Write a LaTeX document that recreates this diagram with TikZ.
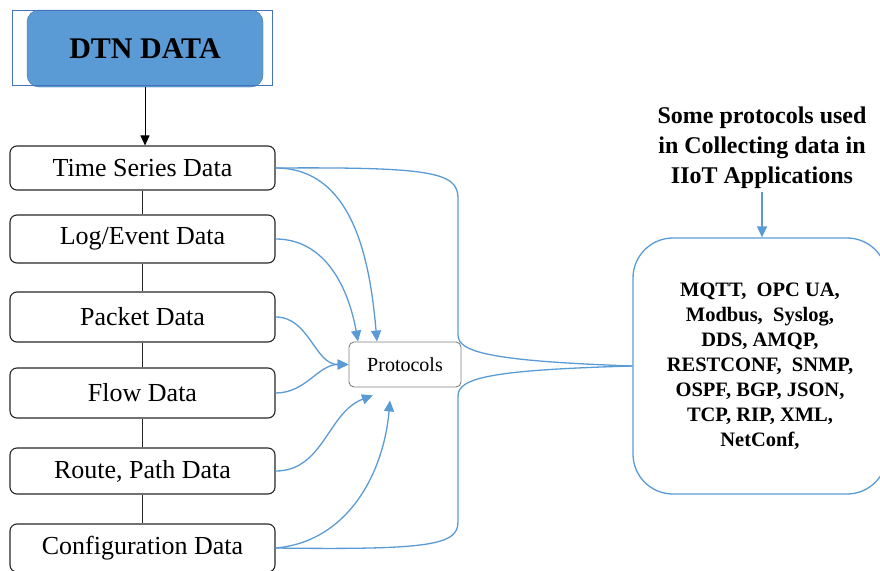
\documentclass[tikz,border=0pt]{standalone}
\usepackage{fontspec}
\setmainfont{Liberation Serif}
\usetikzlibrary{arrows.meta}
\definecolor{officeblue}{RGB}{91,155,213}
\definecolor{darkblue}{RGB}{65,113,156}
\definecolor{frameblue}{RGB}{68,114,196}
\begin{document}
\begin{tikzpicture}[x=1pt,y=1pt,
		databox/.style={draw=black!85,line width=1.1pt,rounded corners=7pt,minimum width=265pt,inner sep=0pt,font=\fontsize{26}{30}\selectfont},
		link/.style={draw=black!85,line width=1.1pt},
		feed/.style={draw=officeblue,line width=1.3pt,-{Triangle[length=11pt,width=10pt]}},
		brace/.style={draw=officeblue,line width=1.3pt}]
	\useasboundingbox (0,0) rectangle (880,-570);
	\node[fill=officeblue,draw=darkblue,rounded corners=12pt,minimum width=236pt,minimum height=77pt,font=\fontsize{30}{34}\selectfont\bfseries] (dtn) at (145,-48.5) {DTN DATA};
	\draw[frameblue,line width=.6pt] ([xshift=-15pt]dtn.north west) rectangle ([xshift=9pt,yshift=2pt]dtn.south east);
	\node[databox,minimum height=44pt] (timeser) at (142.5,-168) {Time Series Data};
	\node[databox,minimum height=48pt] (logev) at (142.5,-239) {Log/Event Data};
	\node[databox,minimum height=50pt] (packet) at (142.5,-317) {Packet Data};
	\node[databox,minimum height=50pt] (flowd) at (142.5,-393) {Flow Data};
	\node[databox,minimum height=46pt] (route) at (142.5,-471) {Route, Path Data};
	\node[databox,minimum height=48pt] (config) at (142.5,-548) {Configuration Data};
	\draw[black,line width=1pt,-{Triangle[length=10pt,width=9pt]}] (dtn.south) -- (dtn.south |- timeser.north);
	\draw[link] (timeser.south) -- (logev.north);
	\draw[link] (logev.south) -- (packet.north);
	\draw[link] (packet.south) -- (flowd.north);
	\draw[link] (flowd.south) -- (route.north);
	\draw[link] (route.south) -- (config.north);
	\node[draw=black!50,line width=.9pt,rounded corners=5pt,minimum width=112pt,minimum height=45pt,inner sep=0pt,font=\fontsize{20}{24}\selectfont] (proto) at (405,-364.5) {Protocols};
	\node[draw=officeblue,line width=1.3pt,rounded corners=40pt,minimum width=254pt,minimum height=256pt,align=center,font=\fontsize{20.5}{25}\selectfont\bfseries] (rbox) at (760,-366) {MQTT,~ OPC UA,\\ Modbus,~ Syslog,\\ DDS, AMQP,\\ RESTCONF,~ SNMP,\\ OSPF, BGP, JSON,\\ TCP, RIP, XML,\\ NetConf,};
	\node[align=center,font=\fontsize{24}{30}\selectfont\bfseries] (title) at (762,-148) {Some protocols used\\ in Collecting data in\\ IIoT Applications};
	\draw[feed] (title.south) -- (title.south |- rbox.north);
	\draw[feed] (timeser.east) to[out=0,in=95] ([xshift=-28pt]proto.north);
	\draw[feed] (logev.east) to[out=0,in=100] ([xshift=-47pt]proto.north);
	\draw[feed] (packet.east) to[out=0,in=180] (proto.west);
	\draw[feed] (flowd.east) to[out=0,in=180] (proto.west);
	\draw[feed] (route.east) to[out=0,in=200] ([xshift=-32pt,yshift=-8pt]proto.south);
	\draw[feed] (config.east) to[out=5,in=265] ([xshift=-15pt,yshift=-13pt]proto.south);
	\draw[brace] (timeser.east) .. controls (430,-167) and (458,-172) .. (458,-198) -- (458,-335) .. controls (458,-352) and (490,-361) .. (rbox.west);
	\draw[brace] (config.east) .. controls (430,-550) and (458,-545) .. (458,-522) -- (458,-396) .. controls (458,-378) and (490,-370) .. (rbox.west);
\end{tikzpicture}
\end{document}
